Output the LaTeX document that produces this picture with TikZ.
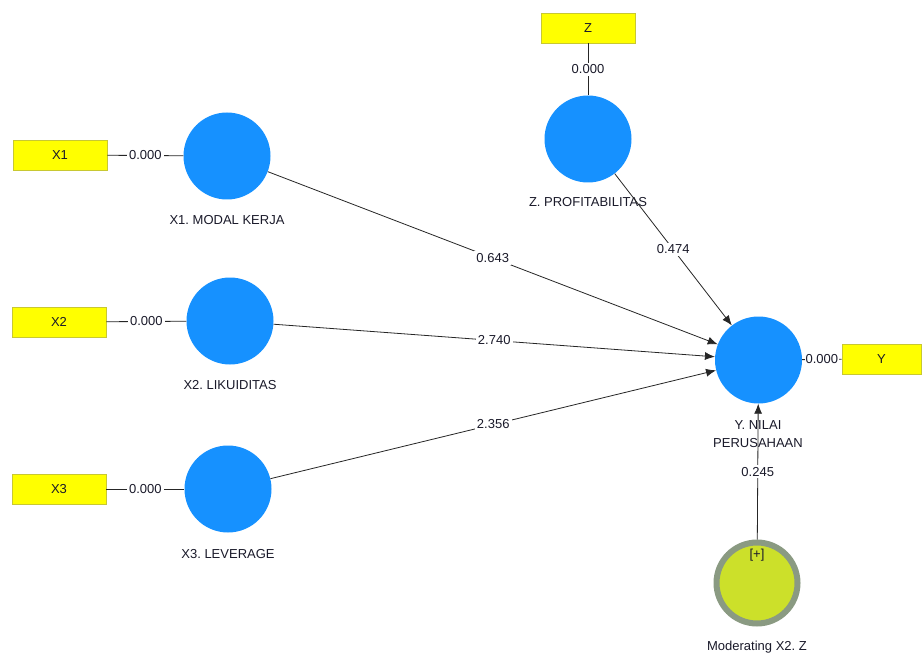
\documentclass[tikz,border=0pt]{standalone}
\usepackage{fontspec}
\setmainfont{Liberation Sans}
\usetikzlibrary{arrows.meta}
\definecolor{lvblue}{HTML}{1691FF}
\definecolor{indyellow}{HTML}{FFFF00}
\definecolor{indborder}{HTML}{C8C832}
\definecolor{modfill}{HTML}{CCE02A}
\definecolor{modring}{HTML}{8A9A82}
\definecolor{txtcol}{HTML}{1A1A2A}
\frenchspacing
\begin{document}
\begin{tikzpicture}[x=1pt,y=-1pt,
  lv/.style={circle, fill=lvblue, minimum size=87pt, inner sep=0pt},
  modlv/.style={circle, fill=modfill, draw=modring, line width=6pt, minimum size=81pt, inner sep=0pt},
  ind/.style={rectangle, fill=indyellow, draw=indborder, line width=0.8pt, minimum width=94pt, minimum height=30pt, inner sep=0pt, font=\fontsize{13}{15}\selectfont, text=txtcol},
  txt/.style={font=\fontsize{13}{18}\selectfont, text=txtcol, align=center, inner sep=0pt},
  wt/.style={fill=white, inner sep=2pt, font=\fontsize{13}{15}\selectfont, text=txtcol},
  outer/.style={draw=black!85, line width=0.8pt},
  pth/.style={draw=black!85, line width=0.8pt, -{Latex[length=10pt,width=8pt]}}
]
\useasboundingbox[fill=white] (0,0) rectangle (923,655);
% latent variables
\node[lv] (x1) at (227,156) {};
\node[lv] (x2) at (230,321) {};
\node[lv] (x3) at (228,489) {};
\node[lv] (z) at (588,139) {};
\node[lv] (y) at (758.5,360) {};
\node[modlv] (m) at (757,583) {};
% indicators
\node[ind] (i1) at (60,155) {X1};
\node[ind] (i2) at (59,322) {X2};
\node[ind] (i3) at (59,489) {X3};
\node[ind] (iz) at (588,28) {Z};
\node[ind, minimum width=79pt] (iy) at (881.5,359) {Y};
% labels
\node[txt] (lx1) at (227,220) {X1. MODAL KERJA};
\node[txt] (lx2) at (230,385) {X2. LIKUIDITAS};
\node[txt] (lx3) at (228,554) {X3. LEVERAGE};
\node[txt] (lz) at (588,202) {Z. PROFITABILITAS};
\node[txt] (ly) at (758,434) {Y. NILAI\\PERUSAHAAN};
\node[txt] (lm) at (757,647) {Moderating X2. Z};
\node[txt] (plus) at (757,555) {[+]};
% outer loadings
\draw[outer] (i1) -- node[wt]{0.000} (x1);
\draw[outer] (i2) -- node[wt]{0.000} (x2);
\draw[outer] (i3) -- node[wt]{0.000} (x3);
\draw[outer] (iz) -- node[wt]{0.000} (z);
\draw[outer] (y) -- node[wt, inner sep=1pt]{0.000} (iy);
% paths
\draw[pth] (x1) -- node[wt]{0.643} (y);
\draw[pth] (x2) -- node[wt]{2.740} (y);
\draw[pth] (x3) -- node[wt]{2.356} (y);
\draw[pth] (z) -- node[wt]{0.474} (y);
\draw[pth] (m) -- node[wt, pos=0.5]{0.245} (y);
\end{tikzpicture}
\end{document}
